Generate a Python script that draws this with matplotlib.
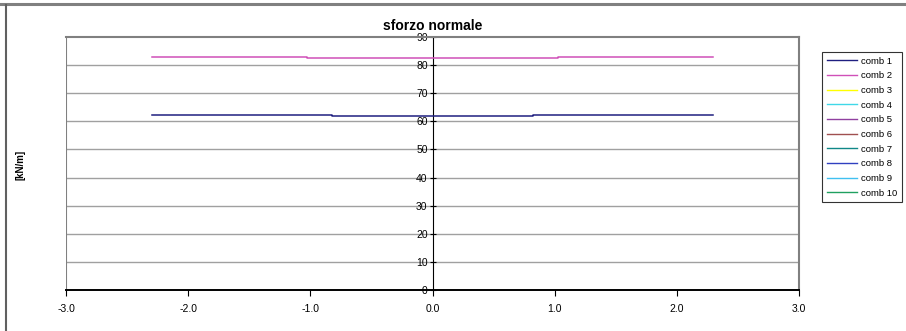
import numpy as np
import matplotlib.pyplot as plt
from matplotlib.lines import Line2D

plt.rcParams['font.family'] = ['Liberation Sans', 'DejaVu Sans']

# series labels and colours (Excel palette)
labels = ['comb 1', 'comb 2', 'comb 3', 'comb 4', 'comb 5',
          'comb 6', 'comb 7', 'comb 8', 'comb 9', 'comb 10']
colors = ['#1f1f80', '#d050b8', '#ffff00', '#40d8e8', '#9040a0',
          '#a05050', '#108888', '#3040c0', '#40c0f0', '#20a060']

# normal force along the section, stepwise
x_comb1 = [-2.30, -0.82, -0.82, 0.82, 0.82, 2.30]
y_comb1 = [62.4, 62.4, 62.0, 62.0, 62.4, 62.4]
x_comb2 = [-2.30, -1.03, -1.03, 1.03, 1.03, 2.30]
y_comb2 = [82.8, 82.8, 82.4, 82.4, 82.8, 82.8]

series = {
    'comb 1': (x_comb1, y_comb1),
    'comb 2': (x_comb2, y_comb2),
}

xticks = [-3, -2, -1, 0, 1, 2, 3]
yticks = [0, 10, 20, 30, 40, 50, 60, 70, 80, 90]

W, H = 906, 331
fig = plt.figure(figsize=(W / 100, H / 100), dpi=100)
ax = fig.add_axes([66 / W, 41 / H, (799 - 66) / W, (290 - 37) / H])

handles = []
for lab, col in zip(labels, colors):
    if lab in series:
        xs, ys = series[lab]
        ax.plot(xs, ys, color=col, lw=1.1, zorder=3)
    handles.append(Line2D([], [], color=col, lw=1.0))

ax.set_xlim(-3, 3)
ax.set_ylim(0, 90)
ax.set_xticks(xticks)
ax.set_xticklabels(['%.1f' % v for v in xticks])
ax.set_yticks(yticks)
ax.set_yticklabels([str(v) for v in yticks])

for v in yticks[1:-1]:
    ax.axhline(v, color='#a0a0a0', lw=1.0, zorder=1)
ax.axvline(-3, color='#808080', lw=1.5, zorder=2)

ax.spines['left'].set_position(('data', 0))
ax.spines['left'].set_color('black')
ax.spines['left'].set_linewidth(0.8)
ax.spines['bottom'].set_color('black')
ax.spines['bottom'].set_linewidth(1.4)
for s in ['top', 'right']:
    ax.spines[s].set_color('#808080')
    ax.spines[s].set_linewidth(1.5)

ax.tick_params(axis='y', direction='inout', length=5, width=0.8,
               labelsize=7.5, pad=1)
ax.tick_params(axis='x', direction='out', length=4, width=0.8,
               labelsize=7.5, pad=6)

ax.set_title('sforzo normale', fontsize=10, fontweight='bold', pad=5)
fig.text(20 / W, 1 - 165 / H, '[kN/m]', rotation=90, fontsize=7,
         fontweight='bold', ha='center', va='center')

leg = fig.legend(handles, labels, loc='upper left',
                 bbox_to_anchor=(822 / W, 1 - 52 / H), fontsize=6.8,
                 frameon=True, fancybox=False, edgecolor='black',
                 handlelength=3.2, labelspacing=0.6, borderpad=0.5,
                 handletextpad=0.45, borderaxespad=0)
leg.get_frame().set_linewidth(0.8)

# outer frame of the sheet
fig.add_artist(Line2D([0, 1], [1 - 4 / H, 1 - 4 / H], color='#808080', lw=2.2,
                      transform=fig.transFigure))
fig.add_artist(Line2D([6 / W, 6 / W], [0, 1 - 5 / H], color='#606060', lw=1.5,
                      transform=fig.transFigure))

fig.savefig('out.png', dpi=100)
